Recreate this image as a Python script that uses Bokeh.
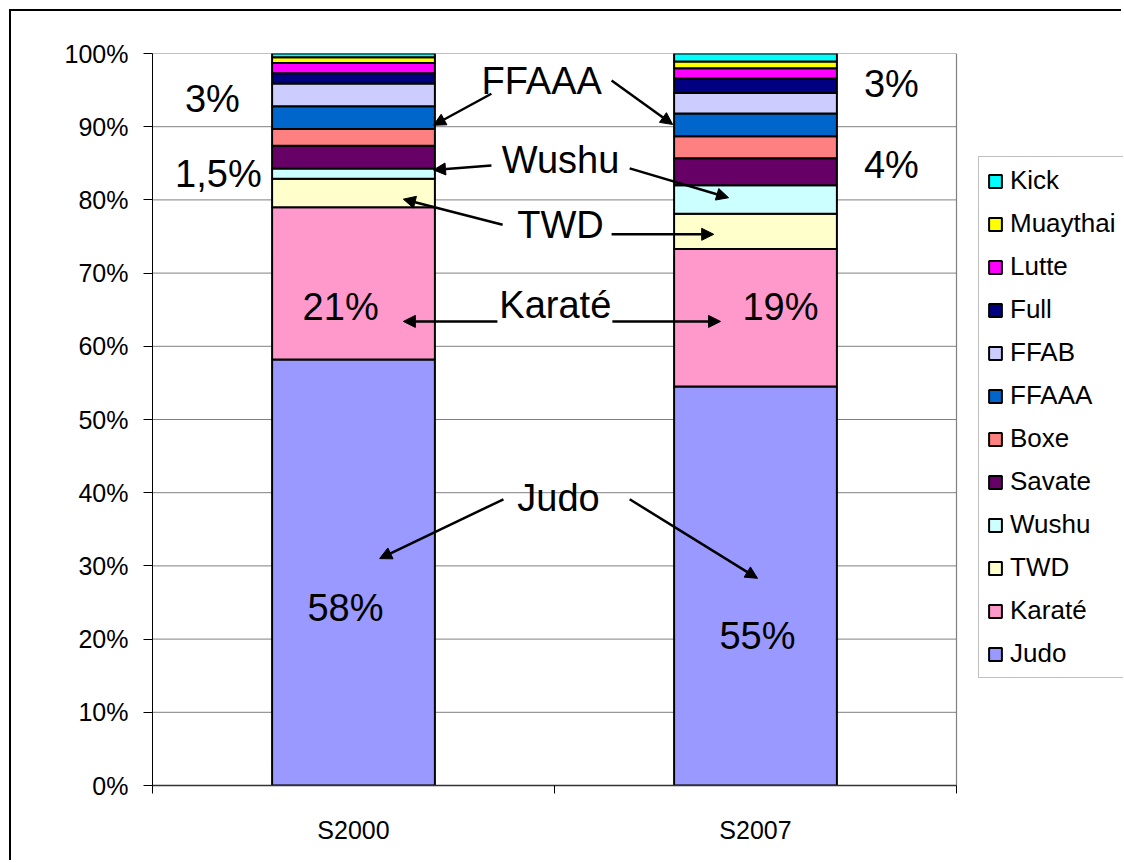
from bokeh.plotting import figure
from bokeh.models import (Range1d, FixedTicker, PrintfTickFormatter, Legend, LegendItem,
                          Label, Arrow, NormalHead, ColumnDataSource)
from bokeh.embed import file_html
from bokeh.resources import INLINE

# ---- data -------------------------------------------------------------
categories = ["S2000", "S2007"]
series = ["Judo", "Karaté", "TWD", "Wushu", "Savate", "Boxe",
          "FFAAA", "FFAB", "Full", "Lutte", "Muaythai", "Kick"]
s2000 = [58.2, 20.8, 3.9, 1.4, 3.1, 2.3, 3.1, 3.1, 1.4, 1.4, 0.8, 0.5]
s2007 = [54.5, 18.8, 4.8, 3.9, 3.7, 3.0, 3.1, 2.8, 2.0, 1.4, 0.9, 1.1]
colors = ["#9999FF", "#FF99CC", "#FFFFCC", "#CCFFFF", "#660066", "#FF8080",
          "#0066CC", "#CCCCFF", "#000080", "#FF00FF", "#FFFF00", "#00FFFF"]
y_ticks = [0, 10, 20, 30, 40, 50, 60, 70, 80, 90, 100]

# 100% stacked: normalise each column
tot0, tot7 = sum(s2000), sum(s2007)
data = {"x": [i + 0.5 for i in range(len(categories))]}
for name, a, b in zip(series, s2000, s2007):
    data[name] = [a * 100.0 / tot0, b * 100.0 / tot7]
src = ColumnDataSource(data)

FONT = "Liberation Sans"
NCAT = len(categories)

# layout: canvas at page (11,11); plot area 152..956 x 53..785; frame extended to the
# right canvas edge so the legend (drawn inside the frame) is not clipped.
W, H = 1112, 851
left, top, bottom = 141, 42, 77
plot_w = 956 - 152
frame_w = W - left
x_end = NCAT * frame_w / plot_w

p = figure(width=W, height=H, x_range=Range1d(0, x_end), y_range=Range1d(0, 100),
           output_backend="svg", toolbar_location=None,
           min_border_left=left, min_border_right=0, min_border_top=top, min_border_bottom=bottom)
p.styles = {"margin-left": "9px", "margin-top": "9px",
            "border-top": "2px solid black", "border-left": "2px solid black"}
p.outline_line_color = None
p.xgrid.grid_line_color = None
p.ygrid.grid_line_color = None

# gridlines and plot-area border limited to the category span
grid_src = ColumnDataSource({"y": y_ticks, "x0": [0] * len(y_ticks), "x1": [NCAT] * len(y_ticks)})
p.segment(x0="x0", y0="y", x1="x1", y1="y", source=grid_src, line_color="#808080",
          line_width=1, level="underlay")
p.segment(x0=[NCAT], y0=[0], x1=[NCAT], y1=[100], line_color="#808080", line_width=1.2,
          level="underlay")

renderers = p.vbar_stack(series, x="x", width=0.405, source=src, fill_color=colors,
                         line_color="black", line_width=2)

# axes
p.yaxis.ticker = FixedTicker(ticks=y_ticks)
p.yaxis.formatter = PrintfTickFormatter(format="%d%%")
p.yaxis.major_tick_out = 9
p.yaxis.major_tick_in = 0
p.yaxis.minor_tick_out = 0
p.yaxis.minor_tick_in = 0
p.yaxis.major_label_standoff = 15
p.yaxis.axis_line_color = "black"
p.yaxis.major_tick_line_color = "black"

p.xaxis.ticker = FixedTicker(ticks=[i + 0.5 for i in range(NCAT)],
                             minor_ticks=list(range(NCAT + 1)))
p.xaxis.major_label_overrides = {i + 0.5: c for i, c in enumerate(categories)}
p.xaxis.bounds = (0, NCAT)
p.xaxis.major_tick_out = 0
p.xaxis.major_tick_in = 0
p.xaxis.minor_tick_out = 8
p.xaxis.minor_tick_in = 0
p.xaxis.minor_tick_line_color = "black"
p.xaxis.major_label_standoff = 22
p.xaxis.axis_line_color = "#333333"
p.xaxis.axis_line_width = 1.5
for ax in (p.xaxis, p.yaxis):
    ax.major_label_text_font = FONT
    ax.major_label_text_font_size = "25px"
    ax.major_label_text_color = "black"

# legend (top item = last series)
items = [LegendItem(label=n, renderers=[r]) for n, r in zip(series, renderers)][::-1]
legend = Legend(items=items, location=(978 - 152, 785 - 678))
legend.label_text_font = FONT
legend.label_text_font_size = "26px"
legend.label_text_color = "black"
legend.glyph_width = 16
legend.glyph_height = 16
legend.label_height = 24
legend.label_standoff = 7
legend.spacing = 12
legend.padding = 8
legend.margin = 0
legend.border_line_color = "#808080"
legend.border_line_width = 1.2
legend.background_fill_alpha = 1
p.add_layout(legend, "center")

# text annotations (positions in data units)
labels = [
    ("3%", 0.149, 93.85), ("1,5%", 0.164, 83.5), ("21%", 0.468, 65.4), ("58%", 0.480, 24.2),
    ("3%", 1.838, 95.8), ("4%", 1.838, 84.8), ("19%", 1.562, 65.4), ("55%", 1.505, 20.4),
    ("FFAAA", 0.968, 96.3), ("Wushu", 1.015, 85.4), ("TWD", 1.015, 76.6),
    ("Karaté", 1.002, 65.6), ("Judo", 1.01, 39.3),
]
for t, x, y in labels:
    p.add_layout(Label(x=x, y=y, text=t, text_align="center", text_baseline="middle",
                       text_font=FONT, text_font_size="38px", text_color="black"))

arrows = [
    (0.843, 94.5, 0.699, 90.2), (1.142, 96.3, 1.294, 90.3),
    (0.843, 84.7, 0.699, 84.1), (1.187, 84.3, 1.433, 80.3),
    (0.871, 76.6, 0.624, 80.1), (1.142, 75.3, 1.396, 75.3),
    (0.858, 63.4, 0.624, 63.4), (1.144, 63.4, 1.413, 63.4),
    (0.873, 39.1, 0.565, 31.0), (1.187, 39.1, 1.505, 28.3),
]
for x0, y0, x1, y1 in arrows:
    p.add_layout(Arrow(x_start=x0, y_start=y0, x_end=x1, y_end=y1, line_width=2.5,
                       line_color="black",
                       end=NormalHead(size=12, fill_color="black", line_color="black", line_width=1)))

open("out.html", "w").write(file_html(p, INLINE))
